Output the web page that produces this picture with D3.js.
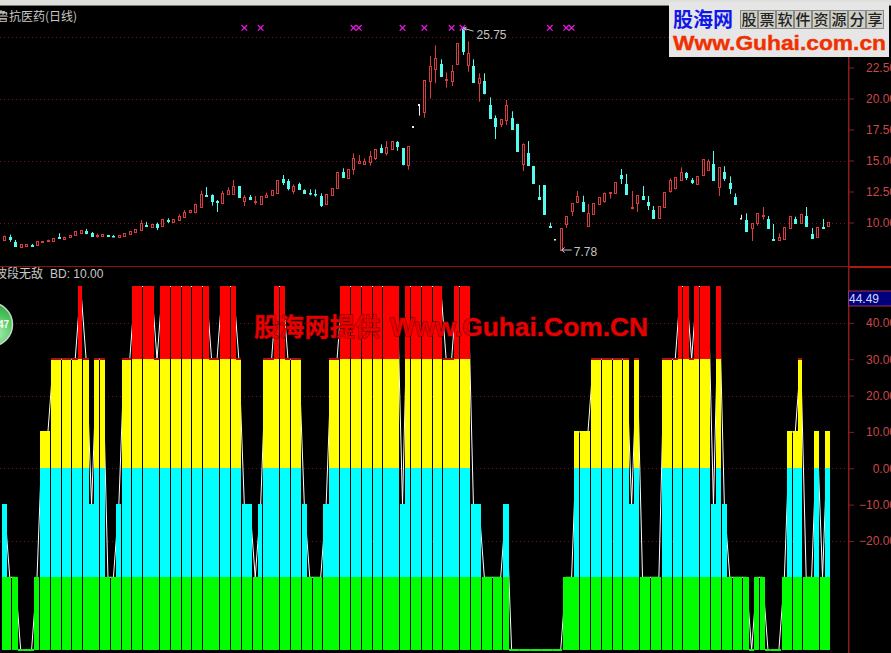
<!DOCTYPE html>
<html><head><meta charset="utf-8">
<script src="https://cdn.jsdelivr.net/npm/d3@7"></script>
<style>html,body{margin:0;padding:0;background:#000;overflow:hidden}svg{display:block}</style>
</head><body><div id="chart"></div>
<script>
const stockTitle = "鲁抗医药(日线)";
const indicatorTitle = "波段无敌";
const indicatorReadout = "BD: 10.00";
const priceTicks = [10, 12.5, 15, 17.5, 20, 22.5];
const priceGrid = [10, 15, 20, 25];
const indicatorTicks = [40, 30, 20, 10, 0, -10, -20];
const indicatorGrid = [40, 20, 0, -20];
const bandEdges = [-50, -30, 0, 30, 50];
const bandColors = ["#00ff00", "#00ffff", "#ffff00", "#ff0000"];
const currentValue = 44.49;
const highLabel = 25.75;
const lowLabel = 7.78;
const signalDays = [44, 47, 64, 65, 73, 77, 82, 84, 100, 103, 104];
const signalPrice = 25.7;
const sloganChars = ["股","票","软","件","资","源","分","享"];

const kinds = ("u d d u u d u u u u d u u u u d d u u d d u u u u u d u d u " +
"d u u u u u u d d d u u u d u d u u u u u d d u d d d d d u " +
"u u d u u u u u u d u u d d u w w u u u d u u u d u d u d d " +
"d u u d d u d d d d d w u u u u d u u u u u u d d u u d d d " +
"u u u u u d d u u u d u d d d w d u u u d d u u u d u d d u d u").split(" ");

const bodyTop = [8.91,8.86,8.45,8.24,8.24,8.21,8.51,8.51,8.62,8.75,
8.80,8.86,8.97,9.29,9.40,9.31,9.18,9.02,9.07,8.97,
8.94,8.99,9.13,9.29,9.48,9.99,9.77,9.85,9.88,10.26,
10.20,10.26,10.55,10.87,11.01,11.46,12.30,12.22,12.22,11.73,
12.41,12.62,12.94,12.94,12.06,12.08,11.76,12.11,12.24,12.59,
13.40,13.48,13.32,12.94,13.10,12.62,12.38,12.30,12.14,12.27,
12.76,14.05,14.07,14.29,15.17,14.93,14.96,15.36,15.93,15.98,
16.09,16.55,16.49,15.98,16.14,17.75,19.55,21.47,22.62,23.24,
22.75,21.54,22.22,24.45,25.58,23.64,22.62,21.63,21.38,19.45,
18.45,18.32,19.45,18.43,17.97,16.33,15.58,14.53,12.03,13.00,
9.72,8.67,9.53,10.50,11.55,12.14,11.65,10.74,11.57,12.03,
12.41,12.43,13.24,13.83,13.10,11.22,12.22,12.14,11.65,11.01,
11.33,12.46,13.45,13.67,14.10,14.02,13.40,13.72,15.09,14.96,
14.72,14.45,14.07,13.19,12.03,10.36,10.20,9.93,10.74,10.60,
10.28,8.67,8.86,9.61,10.52,10.31,10.71,10.52,9.07,9.61,
9.61,10.04];

const bodyBottom = [8.62,8.64,8.13,8.05,8.13,8.13,8.21,8.45,8.48,8.54,
8.75,8.70,8.86,8.99,9.18,9.18,8.91,8.88,8.94,8.91,
8.88,8.86,8.94,9.10,9.26,9.40,9.72,9.64,9.66,9.69,
10.12,10.01,10.23,10.47,10.82,10.82,11.28,12.16,11.76,11.68,
11.57,12.33,12.30,12.06,11.71,11.90,11.65,11.52,12.08,12.24,
12.41,13.29,12.78,12.54,12.73,12.38,12.35,12.27,11.44,11.49,
12.22,12.76,13.70,13.62,14.34,14.82,14.72,14.91,15.23,15.69,
15.60,15.93,16.17,14.69,14.66,17.73,19.50,18.94,21.44,22.41,
21.81,21.47,21.41,22.78,23.86,22.73,21.36,21.28,20.42,18.45,
17.78,17.94,18.29,17.57,15.77,14.74,14.64,13.19,11.92,10.71,
9.66,8.64,7.78,9.85,10.93,11.68,10.95,9.74,10.71,11.49,
11.71,12.35,12.41,13.59,12.33,11.14,11.60,11.90,11.44,10.36,
10.36,11.28,12.51,12.78,13.43,13.70,13.24,13.10,13.86,14.26,
13.43,12.84,13.59,12.78,11.52,10.34,9.34,9.53,9.93,10.52,
9.58,8.62,8.62,8.67,9.58,9.96,9.99,9.69,8.78,8.83,
9.56,9.72];

const highs = [8.95,9.02,8.59,8.24,8.24,8.27,8.51,8.51,8.62,8.75,
9.13,8.86,8.97,9.29,9.40,9.48,9.23,9.10,9.07,8.97,
8.99,8.99,9.13,9.29,9.48,10.20,10.05,9.85,9.99,10.31,
10.34,10.26,10.66,11.01,11.01,11.52,12.57,12.86,12.27,11.81,
12.54,12.84,13.43,12.94,12.22,12.22,12.14,12.11,12.41,12.59,
13.40,13.83,13.51,13.08,13.21,12.67,12.67,12.67,12.35,12.27,
12.76,14.05,14.37,14.29,15.58,15.44,15.17,15.77,15.93,16.30,
16.57,16.55,16.57,15.98,16.14,17.75,19.55,21.47,23.43,24.29,
23.16,22.11,22.70,24.45,25.75,24.61,23.16,22.03,22.03,20.09,
18.64,18.32,19.88,18.97,17.97,16.38,16.57,14.53,13.02,13.00,
9.99,8.67,9.53,10.50,11.55,12.54,12.16,11.49,11.57,12.03,
12.41,12.43,13.24,14.31,13.91,12.54,12.22,12.94,12.14,11.33,
11.33,12.46,13.56,13.67,14.45,14.07,13.59,13.72,15.09,15.09,
15.77,14.45,14.53,13.72,12.35,10.63,10.74,9.93,10.74,11.25,
10.52,9.88,9.13,9.61,10.52,10.47,10.71,11.25,9.56,9.61,
10.28,10.04];

const lows = [8.60,8.45,8.10,8.05,8.13,8.10,8.21,8.45,8.48,8.54,
8.75,8.70,8.86,8.99,9.18,9.05,8.83,8.78,8.94,8.83,
8.86,8.86,8.94,9.10,9.26,9.31,9.69,9.64,9.40,9.66,
9.96,10.01,10.17,10.36,10.74,10.74,11.22,12.08,11.36,10.85,
11.49,12.24,12.22,11.98,11.33,11.81,11.44,11.52,12.08,12.24,
12.30,13.02,12.59,12.30,12.67,12.33,12.19,12.08,11.25,11.41,
12.22,12.76,13.67,13.62,13.86,14.80,14.64,14.58,15.04,15.58,
15.39,15.93,15.79,14.61,14.26,17.73,18.62,18.45,19.99,21.22,
21.73,20.87,21.01,22.78,23.51,22.16,21.33,19.74,20.34,18.43,
16.73,17.70,17.86,17.54,15.77,14.15,14.64,13.19,11.90,10.71,
9.64,8.64,7.78,9.58,10.52,11.63,10.90,9.72,10.71,11.49,
11.60,11.92,12.41,13.10,12.30,11.06,10.85,11.81,11.01,10.31,
10.36,11.28,12.41,12.67,13.37,13.43,13.10,13.10,13.86,14.23,
13.40,12.14,13.35,12.30,11.49,10.34,9.31,8.51,9.74,10.23,
9.56,8.62,8.62,8.67,9.58,9.91,9.99,9.64,8.75,8.83,
9.50,9.72];

const bdValues = [-10,-30,-30,-50,-50,-50,-30,10,10,30,
30,30,30,30,50,30,-10,30,30,-30,
-30,-10,30,30,50,50,50,50,30,50,
50,50,50,50,50,50,50,50,30,30,
50,50,50,30,-10,-10,-30,-10,30,30,
50,50,30,30,30,-10,-30,-30,-30,-10,
30,30,50,50,50,50,50,50,50,50,
50,50,50,-10,50,50,50,50,50,50,
50,30,30,50,50,50,-10,-10,-30,-30,
-30,-30,-10,-50,-50,-50,-50,-50,-50,-50,
-50,-50,-50,-30,-30,10,10,10,30,30,
30,30,30,30,30,-10,30,-30,-30,-30,
-30,30,30,30,50,50,30,50,50,50,
-10,50,-10,-30,-30,-30,-30,-50,-30,-30,
-50,-50,-50,-30,10,10,30,-30,-30,10,
-30,10];

const W = 891, H = 653, axisX = 848;
const CJK = '"Noto Sans CJK SC","Noto Sans",sans-serif';
const LAT = '"Liberation Sans",Arial,sans-serif';
const AXIS_RED = "#8c1c1c", GRID_RED = "#6e1616", LABEL_RED = "#c84848";

const svg = d3.select("#chart").append("svg").attr("width", W).attr("height", H)
  .style("background", "#000");

const x = d3.scaleLinear().domain([0, 151]).range([4.3, 828]);
const step = x(1) - x(0);
const yP = d3.scaleLinear().domain([10, 25]).range([222.5, 36.5]);
const yB = d3.scaleLinear().domain([-50, 50]).range([650, 286.5]);

/* window chrome */
svg.append("rect").attr("x", 0).attr("y", 0).attr("width", W).attr("height", 5).attr("fill", "#dedfda");
svg.append("rect").attr("x", 0).attr("y", 5).attr("width", W).attr("height", 1).attr("fill", "#7a7a78");

/* grids */
function grid(values, scale) {
  svg.append("g").selectAll("line").data(values).join("line")
    .attr("x1", 0).attr("x2", axisX)
    .attr("y1", d => Math.round(scale(d)) + 0.5).attr("y2", d => Math.round(scale(d)) + 0.5)
    .attr("stroke", GRID_RED).attr("stroke-width", 1).attr("stroke-dasharray", "1 3");
}
grid(priceGrid, yP);
grid(indicatorGrid, yB);

/* candles */
const candles = d3.range(kinds.length).map(i => ({
  i, kind: kinds[i], top: bodyTop[i], bottom: bodyBottom[i], high: highs[i], low: lows[i]
}));
const candleColor = { u: "#d83c40", d: "#54fcf0", w: "#f0f0f0" };
const cx = d => Math.round(x(d.i)) + 0.5;
const cg = svg.append("g");
cg.selectAll("line").data(candles).join("line")
  .attr("x1", cx).attr("x2", cx)
  .attr("y1", d => yP(d.high)).attr("y2", d => yP(d.low))
  .attr("stroke", d => candleColor[d.kind]).attr("stroke-width", 1);
cg.selectAll("rect").data(candles).join("rect")
  .attr("x", d => cx(d) - 1)
  .attr("width", d => d.kind === "w" ? 1 : 2)
  .attr("y", d => Math.round(yP(d.top)) + 0.5)
  .attr("height", d => Math.max(0.5, Math.round(yP(d.bottom)) - Math.round(yP(d.top))))
  .attr("fill", d => d.kind === "u" ? "#000" : candleColor[d.kind])
  .attr("stroke", d => candleColor[d.kind]).attr("stroke-width", 1);

/* signal crosses */
const times = d3.symbol().type(d3.symbolTimes).size(22);
svg.append("g").selectAll("path").data(signalDays).join("path")
  .attr("d", times)
  .attr("transform", d => `translate(${x(d)},${yP(signalPrice)})`)
  .attr("fill", "none").attr("stroke", "#e818e0").attr("stroke-width", 1.3);

/* high / low callouts */
const note = svg.append("g").attr("fill", "#c4c4c4").attr("stroke", "none")
  .style("font-family", LAT).style("font-size", "12px");
const hx = x(84), hy = yP(highLabel), lx = x(102), ly = yP(lowLabel);
note.append("path").attr("fill", "none").attr("stroke", "#c4c4c4").attr("stroke-width", 1)
  .attr("d", `M${hx + 11},${hy + 4}L${hx + 1},${hy + 1}l3,-1M${hx + 1},${hy + 1}l3,2`);
note.append("text").attr("x", hx + 14).attr("y", hy + 12).text(highLabel.toFixed(2));
note.append("path").attr("fill", "none").attr("stroke", "#c4c4c4").attr("stroke-width", 1)
  .attr("d", `M${lx + 11},${ly}L${lx + 1},${ly}l3,-2.5M${lx + 1},${ly}l3,2.5`);
note.append("text").attr("x", lx + 13).attr("y", ly + 6).text(lowLabel.toFixed(2));

/* indicator: white line under the stacked bars */
const gapDays = new Set([1, 3, 6, 8, 10]);
const line = d3.line().x((d, i) => x(i)).y(d => yB(d));
svg.append("path").attr("d", line(bdValues)).attr("fill", "none")
  .attr("stroke", "#ffffff").attr("stroke-width", 1);

const segs = [];
bdValues.forEach((v, i) => {
  d3.range(bandColors.length).forEach(b => {
    const lo = bandEdges[b], hi = bandEdges[b + 1];
    if (v > lo) segs.push({ i, lo, hi: Math.min(hi, v), color: bandColors[b], top: v <= hi });
    else if (v === lo && (b === 0 || b === 3)) segs.push({ i, lo, hi: lo, color: b === 3 ? "#b01010" : bandColors[b], flat: true });
  });
});
const left = d => x(d.i) - step / 2;
const right = d => x(d.i) + step / 2 - (gapDays.has(d.i % 11) ? 1 : 0);
/* a top edge one pixel high hides the white line, except along the -30 shelf */
const lift = d => (d.top && d.hi !== -30) ? 1 : 0;
svg.append("g").attr("shape-rendering", "crispEdges").selectAll("rect").data(segs).join("rect")
  .attr("x", d => Math.round(left(d)))
  .attr("width", d => Math.max(1, Math.round(right(d)) - Math.round(left(d))))
  .attr("y", d => d.flat ? Math.round(yB(d.lo)) - 1 : Math.round(yB(d.hi)) - lift(d))
  .attr("height", d => d.flat ? 2 : Math.round(yB(d.lo)) - Math.round(yB(d.hi)) + lift(d))
  .attr("fill", d => d.color);

/* frame lines */
svg.append("rect").attr("x", 0).attr("y", 266).attr("width", W).attr("height", 1).attr("fill", "#8c1414");
svg.append("rect").attr("x", axisX).attr("y", 266).attr("width", W - axisX).attr("height", 2).attr("fill", "#b01818");
svg.append("rect").attr("x", axisX).attr("y", 6).attr("width", 1.5).attr("height", H - 6).attr("fill", AXIS_RED);

/* axes */
function rightAxis(scale, ticks, fmt) {
  const g = svg.append("g").attr("transform", `translate(${axisX + 1},0)`)
    .call(d3.axisRight(scale).tickValues(ticks).tickSize(5).tickFormat(fmt));
  g.select(".domain").remove();
  g.selectAll(".tick line").attr("stroke", AXIS_RED);
  g.selectAll(".tick text").attr("x", 47).attr("text-anchor", "end")
    .attr("fill", LABEL_RED).style("font-family", LAT).style("font-size", "12px");
}
rightAxis(yP, priceTicks, d3.format(".2f"));
rightAxis(yB, indicatorTicks, d3.format(".2f"));

/* titles */
svg.append("text").attr("x", -3).attr("y", 21).attr("fill", "#c8c8c8")
  .style("font-family", CJK).style("font-size", "12px").text(stockTitle);
svg.append("text").attr("x", -5).attr("y", 278).attr("fill", "#c8c8c8")
  .style("font-family", CJK).style("font-size", "12px").text(indicatorTitle);
svg.append("text").attr("x", 50).attr("y", 278).attr("fill", "#c8c8c8")
  .style("font-family", LAT).style("font-size", "12px").text(indicatorReadout);

/* current value box */
svg.append("rect").attr("x", axisX + 0.5).attr("y", 291).attr("width", 45).attr("height", 15)
  .attr("fill", "#00007c").attr("stroke", "#a03050").attr("stroke-width", 1);
svg.append("text").attr("x", 849).attr("y", 303).attr("fill", "#d0dcff")
  .style("font-family", LAT).style("font-size", "12px").text(currentValue.toFixed(2));

/* green badge */
const defs = svg.append("defs");
const grad = defs.append("radialGradient").attr("id", "badge").attr("cx", "65%").attr("cy", "70%").attr("r", "75%");
grad.append("stop").attr("offset", "0%").attr("stop-color", "#a8eeb0");
grad.append("stop").attr("offset", "55%").attr("stop-color", "#4cc45c");
grad.append("stop").attr("offset", "100%").attr("stop-color", "#2c9c3c");
svg.append("circle").attr("cx", -9.5).attr("cy", 324.5).attr("r", 22)
  .attr("fill", "url(#badge)").attr("stroke", "#c8d8cc").attr("stroke-width", 1.5);
svg.append("text").attr("x", 9).attr("y", 328).attr("text-anchor", "end").attr("fill", "#f4fff4")
  .style("font-family", LAT).style("font-weight", "bold").style("font-size", "10px").text("47");

/* centre watermark */
const mark = svg.append("g").attr("fill", "#e60000").attr("stroke", "#600000").attr("stroke-width", 0.9)
  .style("paint-order", "stroke").style("font-weight", "bold");
mark.append("text").attr("x", 254).attr("y", 336).style("font-family", CJK).style("font-size", "25px")
  .attr("textLength", 126).text("股海网提供");
mark.append("text").attr("x", 390).attr("y", 336).style("font-family", LAT).style("font-size", "25px")
  .attr("textLength", 258).attr("lengthAdjust", "spacingAndGlyphs").text("Www.Guhai.Com.CN");

/* corner logo */
const logo = svg.append("g");
logo.append("rect").attr("x", 669).attr("y", 2).attr("width", 220).attr("height", 55).attr("fill", "#e6e6e6");
logo.append("text").attr("x", 673).attr("y", 27).attr("fill", "#1018e8")
  .style("font-family", CJK).style("font-weight", "bold").style("font-size", "20px")
  .attr("textLength", 60).text("股海网");
const cell = d3.scaleBand().domain(d3.range(sloganChars.length)).range([740, 884]);
logo.append("g").selectAll("rect").data(sloganChars).join("rect")
  .attr("x", (d, i) => cell(i) + 0.5).attr("y", 10.5)
  .attr("width", cell.bandwidth() - 1).attr("height", 18)
  .attr("fill", "#cfcfc8").attr("stroke", "#8a8a84").attr("stroke-width", 1);
logo.append("g").selectAll("text").data(sloganChars).join("text")
  .attr("x", (d, i) => cell(i) + cell.bandwidth() / 2).attr("y", 25)
  .attr("text-anchor", "middle").attr("fill", "#222")
  .style("font-family", CJK).style("font-weight", 500).style("font-size", "15px").text(d => d);
logo.append("text").attr("x", 673).attr("y", 50).attr("fill", "#f03000")
  .attr("stroke", "#f03000").attr("stroke-width", 0.4)
  .style("font-family", LAT).style("font-weight", "bold").style("font-size", "21px")
  .attr("textLength", 213).attr("lengthAdjust", "spacingAndGlyphs").text("Www.Guhai.com.cn");
</script>
</body></html>
